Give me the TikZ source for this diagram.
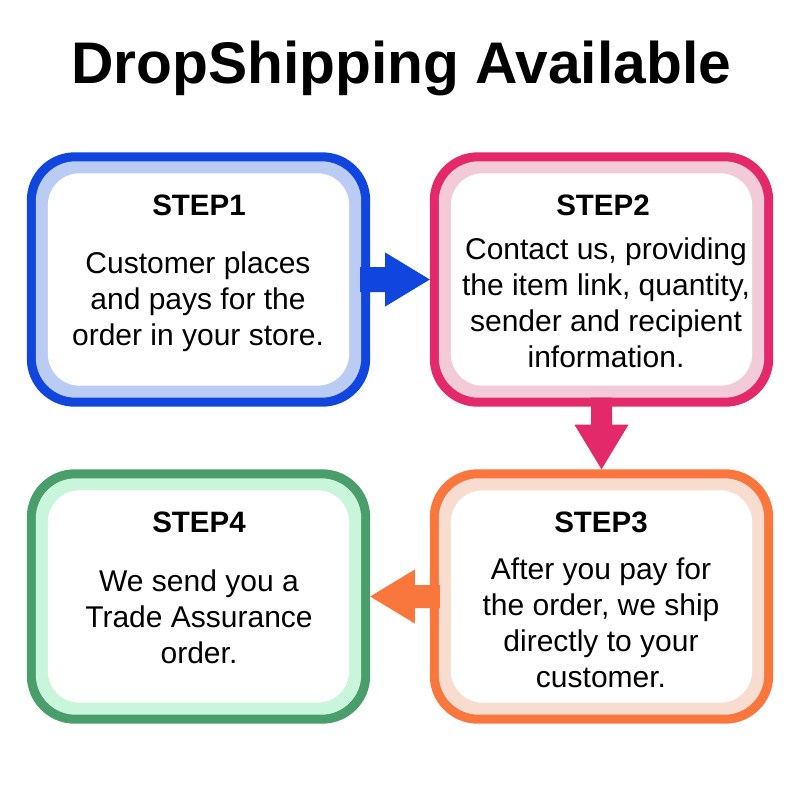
\documentclass[tikz,border=0pt]{standalone}
\usepackage{fontspec}
\setmainfont{Liberation Sans}
\usetikzlibrary{calc}
\definecolor{dblue}{HTML}{1046DE}
\definecolor{lblue}{HTML}{BACBF4}
\definecolor{dpink}{HTML}{E3296A}
\definecolor{lpink}{HTML}{F3CBD8}
\definecolor{dorange}{HTML}{F9773D}
\definecolor{lorange}{HTML}{F8DCD0}
\definecolor{dgreen}{HTML}{4A9E6B}
\definecolor{lgreen}{HTML}{C9F5DA}
\tikzset{
  boxframe/.style={rectangle, inner sep=0pt, minimum width=343pt, minimum height=254pt},
  steptitle/.style={font=\fontsize{29.5pt}{36pt}\selectfont\bfseries, inner sep=0pt},
  steptext/.style={font=\fontsize{30pt}{36pt}\selectfont, align=center, inner sep=0pt},
}
\newcommand{\stepbox}[3]{%
  \fill[#2, rounded corners=48pt] (#1.south west) rectangle (#1.north east);
  \fill[#3, rounded corners=40pt] ([shift={(9pt,9pt)}]#1.south west) rectangle ([shift={(-9pt,-9pt)}]#1.north east);
  \fill[white, rounded corners=32pt] ([shift={(21pt,21pt)}]#1.south west) rectangle ([shift={(-21pt,-21pt)}]#1.north east);
}
\begin{document}
\begin{tikzpicture}[x=1pt,y=-1pt]
\useasboundingbox[fill=white] (0,0) rectangle (800,800);
\node[font=\fontsize{58.7pt}{66pt}\selectfont\bfseries, inner sep=0pt] (title) at (401,68) {DropShipping Available};

\node[boxframe] (b1) at (198.5,279.5) {};
\node[boxframe] (b2) at (601.5,279.5) {};
\node[boxframe] (b3) at (601.5,596.5) {};
\node[boxframe] (b4) at (198.5,596.5) {};

\stepbox{b1}{dblue}{lblue}
\stepbox{b2}{dpink}{lpink}
\stepbox{b3}{dorange}{lorange}
\stepbox{b4}{dgreen}{lgreen}

% arrows
\fill[dblue] ([shift={(-10pt,12.5pt)}]b1.east) -- ([shift={(15pt,12.5pt)}]b1.east) -- ([shift={(15pt,27pt)}]b1.east)
  -- (b2.west) -- ([shift={(15pt,-27pt)}]b1.east) -- ([shift={(15pt,-12.5pt)}]b1.east) -- ([shift={(-10pt,-12.5pt)}]b1.east) -- cycle;
\fill[dpink] ([shift={(-10.5pt,9pt)}]b2.south) -- ([shift={(-10.5pt,-18pt)}]b2.south) -- ([shift={(-27pt,-18pt)}]b2.south)
  -- (b3.north) -- ([shift={(27pt,-18pt)}]b2.south) -- ([shift={(10.5pt,-18pt)}]b2.south) -- ([shift={(10.5pt,9pt)}]b2.south) -- cycle;
\fill[dorange] ([shift={(10pt,11.5pt)}]b3.west) -- ([shift={(-15pt,11.5pt)}]b3.west) -- ([shift={(-15pt,27pt)}]b3.west)
  -- (b4.east) -- ([shift={(-15pt,-27pt)}]b3.west) -- ([shift={(-15pt,-11.5pt)}]b3.west) -- ([shift={(10pt,-11.5pt)}]b3.west) -- cycle;

% texts
\node[steptitle] (s1) at (199,205) {STEP1};
\node[steptext] (t1) at (198,302) {Customer places\\and pays for the\\order in your store.};
\node[steptitle] (s2) at (603,205) {STEP2};
\node[steptext] (t2) at (606,303) {Contact us, providing\\the item link, quantity,\\sender and recipient\\information.};
\node[steptitle] (s3) at (601,522) {STEP3};
\node[steptext] (t3) at (601,623) {After you pay for\\the order, we ship\\directly to your\\customer.};
\node[steptitle] (s4) at (199,522) {STEP4};
\node[steptext] (t4) at (199,617) {We send you a\\Trade Assurance\\order.};
\end{tikzpicture}
\end{document}
